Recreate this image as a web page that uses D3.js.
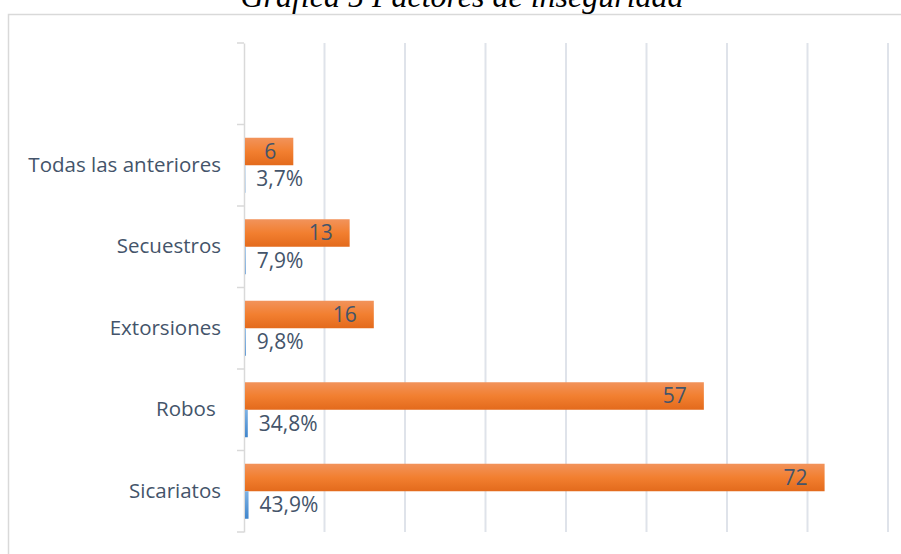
<!DOCTYPE html>
<html>
<head>
<meta charset="utf-8">
<script src="https://cdn.jsdelivr.net/npm/d3@7"></script>
<style>
  body { margin: 0; background: #fff; }
  svg { display: block; }
</style>
</head>
<body>
<svg id="chart" width="901" height="554"></svg>
<script>
// categories, top to bottom (first one is an empty slot in the original chart)
var categories = ["", "Todas las anteriores", "Secuestros", "Extorsiones", "Robos ", "Sicariatos"];
var frecuencia = [null, 6, 13, 16, 57, 72];
var porcentaje = [null, 0.037, 0.079, 0.098, 0.348, 0.439];
var porcentajeLabels = ["", "3,7%", "7,9%", "9,8%", "34,8%", "43,9%"];
var xTicks = [0, 10, 20, 30, 40, 50, 60, 70, 80];

var svg = d3.select("#chart");
var margin = {left: 244, top: 43};
var plotRight = 888, plotBottom = 532;

var textColor = "#44546a";
var font = "'Open Sans', 'Noto Sans', sans-serif";

var defs = svg.append("defs");
var gOrange = defs.append("linearGradient").attr("id", "gOrange")
    .attr("x1", 0).attr("y1", 0).attr("x2", 0).attr("y2", 1);
gOrange.append("stop").attr("offset", "0%").attr("stop-color", "#f2935b");
gOrange.append("stop").attr("offset", "50%").attr("stop-color", "#f27f30");
gOrange.append("stop").attr("offset", "100%").attr("stop-color", "#e36a1c");
var gBlue = defs.append("linearGradient").attr("id", "gBlue")
    .attr("x1", 0).attr("y1", 0).attr("x2", 0).attr("y2", 1);
gBlue.append("stop").attr("offset", "0%").attr("stop-color", "#7eb2e4");
gBlue.append("stop").attr("offset", "100%").attr("stop-color", "#3f85cc");

// outer chart border (extends past the window)
svg.append("rect")
    .attr("x", 8.5).attr("y", 14.5)
    .attr("width", 920).attr("height", 560)
    .attr("fill", "#fff")
    .attr("stroke", "#d9d9d9").attr("stroke-width", 1.5);

// title, partly cut off at the top like in the original
svg.append("text")
    .attr("x", 462).attr("y", 7)
    .attr("text-anchor", "middle")
    .style("font-family", "'Liberation Serif', 'Times New Roman', serif")
    .style("font-style", "italic")
    .style("font-size", "32px")
    .attr("fill", "#000")
    .text("Gráfica 5 Factores de inseguridad");

var x = d3.scaleLinear().domain([0, 80]).range([margin.left, plotRight]);
var y = d3.scaleBand().domain(d3.range(categories.length))
    .range([margin.top, plotBottom]);
var inner = y.bandwidth() * 0.675;
var barH = inner / 2;
var off = (y.bandwidth() - inner) / 2;

// vertical gridlines
svg.append("g").selectAll("line").data(xTicks.slice(1)).enter().append("line")
    .attr("x1", function(d) { return x(d); })
    .attr("x2", function(d) { return x(d); })
    .attr("y1", margin.top).attr("y2", plotBottom)
    .attr("stroke", "#dfe3ea").attr("stroke-width", 2);

// category axis
var yAxis = d3.axisLeft(y).tickSize(0).tickFormat(function(i) { return categories[i]; });
var ga = svg.append("g").attr("transform", "translate(" + margin.left + ",0)").call(yAxis);
ga.select(".domain").attr("stroke", "#d9d9d9").attr("stroke-width", 1.5);
ga.selectAll("text")
    .attr("x", -23)
    .attr("fill", textColor)
    .style("font-family", font)
    .style("font-size", "20.5px")
    .style("white-space", "pre");
// tick marks at category boundaries
svg.append("g").selectAll("line").data(d3.range(categories.length + 1)).enter().append("line")
    .attr("x1", margin.left - 7).attr("x2", margin.left)
    .attr("y1", function(i) { return margin.top + i * y.step(); })
    .attr("y2", function(i) { return margin.top + i * y.step(); })
    .attr("stroke", "#d9d9d9").attr("stroke-width", 1.5);

var rows = d3.range(1, categories.length);

// frequency bars (orange)
svg.append("g").selectAll("rect").data(rows).enter().append("rect")
    .attr("x", x(0) + 1)
    .attr("y", function(i) { return y(i) + off; })
    .attr("width", function(i) { return x(frecuencia[i]) - x(0); })
    .attr("height", barH)
    .attr("fill", "url(#gOrange)");

svg.append("g").selectAll("text").data(rows).enter().append("text")
    .attr("x", function(i) { return x(frecuencia[i]) - 16; })
    .attr("y", function(i) { return y(i) + off + barH / 2; })
    .attr("dy", "0.35em")
    .attr("text-anchor", "end")
    .attr("fill", textColor)
    .style("font-family", font)
    .style("font-size", "21px")
    .text(function(i) { return frecuencia[i]; });

// percentage bars (blue, tiny)
svg.append("g").selectAll("rect").data(rows).enter().append("rect")
    .attr("x", x(0) + 1)
    .attr("y", function(i) { return y(i) + off + barH; })
    .attr("width", function(i) { return x(porcentaje[i]) - x(0); })
    .attr("height", barH)
    .attr("fill", "url(#gBlue)");

svg.append("g").selectAll("text").data(rows).enter().append("text")
    .attr("x", function(i) { return x(porcentaje[i]) + 12; })
    .attr("y", function(i) { return y(i) + off + barH * 1.5; })
    .attr("dy", "0.35em")
    .attr("fill", textColor)
    .style("font-family", font)
    .style("font-size", "21px")
    .text(function(i) { return porcentajeLabels[i]; });
</script>
</body>
</html>
